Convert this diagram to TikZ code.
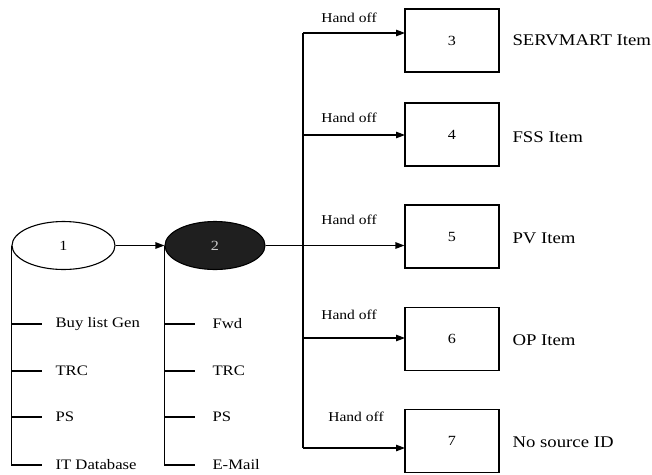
\documentclass[tikz,border=0pt]{standalone}
\usepackage{fontspec}
\setmainfont{Liberation Serif}[FakeStretch=1.15]
\usetikzlibrary{shapes.geometric,arrows.meta}
\begin{document}
\begin{tikzpicture}[x=1pt,y=-1pt,line width=1.1pt,
  arr/.style={-{Triangle[length=9pt,width=6.5pt]}},
  oval/.style={ellipse,draw,minimum width=103pt,minimum height=48pt,inner sep=0pt,font=\fontsize{14}{16}\selectfont},
  box/.style={rectangle,draw,minimum width=94pt,minimum height=63pt,inner sep=0pt,font=\fontsize{14}{16}\selectfont},
  lab/.style={anchor=west,font=\fontsize{16.3}{18}\selectfont,inner sep=0pt},
  hand/.style={font=\fontsize{13.5}{15}\selectfont,inner sep=0pt},
  item/.style={anchor=west,font=\fontsize{14.5}{16}\selectfont,inner sep=0pt}]
\useasboundingbox (0,0) rectangle (652,474);
% ovals
\node[oval] (e1) at (63.5,245.5) {1};
\node[oval,fill=black!88,text=gray!40,minimum width=100pt] (e2) at (215,245.5) {2};
% boxes
\node[box] (b3) at (452,40.5) {3};
\node[box] (b4) at (452,134.5) {4};
\node[box] (b5) at (452,236.5) {5};
\node[box] (b6) at (452,339) {6};
\node[box] (b7) at (452,441) {7};
% box labels
\node[lab] (l3) at (512,40) {SERVMART Item};
\node[lab] (l4) at (512,137) {FSS Item};
\node[lab] (l5) at (512,238) {PV Item};
\node[lab] (l6) at (512,340) {OP Item};
\node[lab] (l7) at (512,442) {No source ID};
% hand off labels
\node[hand] (h3) at (349,18) {Hand off};
\node[hand] (h4) at (349,118) {Hand off};
\node[hand] (h5) at (349,220) {Hand off};
\node[hand] (h6) at (349,315) {Hand off};
\node[hand] (h7) at (356,417) {Hand off};
% items
\node[item] (i1) at (55,324) {Buy list Gen};
\node[item] (i2) at (55,371) {TRC};
\node[item] (i3) at (55,417) {PS};
\node[item] (i4) at (55,465) {IT Database};
\node[item] (j1) at (212,324) {Fwd};
\node[item] (j2) at (212,371) {TRC};
\node[item] (j3) at (212,417) {PS};
\node[item] (j4) at (212,465) {E-Mail};
% connectors
\draw[arr] (e1.east) -- (e2.west);
\coordinate (bus) at (303,0);
\coordinate (t3) at (405,33);
\coordinate (t4) at (405,135);
\coordinate (t6) at (405,338);
\coordinate (t7) at (405,448);
\draw[arr] (e2.east) -- (b5.west |- e2.east);
\draw (bus |- t3) -- (bus |- t7);
\draw[arr] (bus |- t3) -- (t3);
\draw[arr] (bus |- t4) -- (t4);
\draw[arr] (bus |- t6) -- (t6);
\draw[arr] (bus |- t7) -- (t7);
% left trees
\draw (e1.west) -- (e1.west |- i4.west);
\foreach \n in {i1,i2,i3,i4}
  \draw (e1.west |- \n.west) -- ([xshift=-13pt]\n.west);
\draw (e2.west) -- (e2.west |- j4.west);
\foreach \n in {j1,j2,j3,j4}
  \draw (e2.west |- \n.west) -- ([xshift=-17pt]\n.west);
\end{tikzpicture}
\end{document}
